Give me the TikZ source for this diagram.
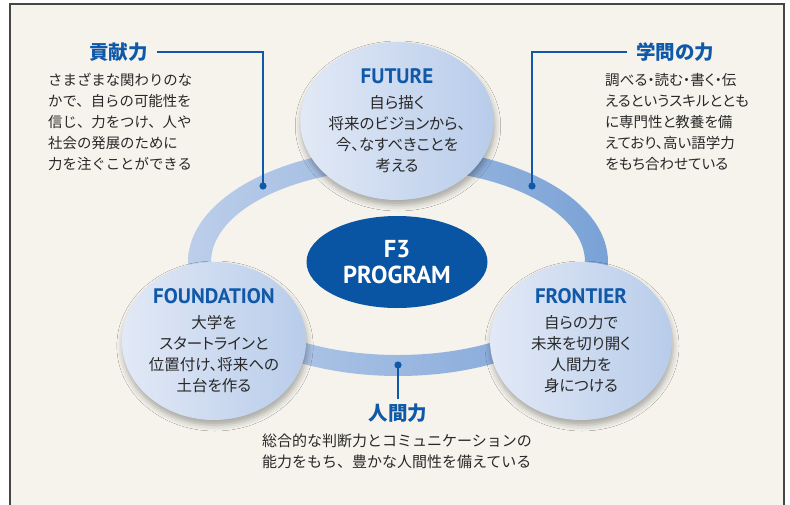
\documentclass[tikz,border=0pt]{standalone}
\usepackage{fontspec}
\setmainfont{PT Sans}
\newfontfamily\jp[RawFeature=+palt]{Noto Sans CJK JP}
\newfontfamily\jpm{Noto Sans CJK JP}
\newfontfamily\lat{PT Sans}
\usetikzlibrary{shapes.geometric,shadows.blur}
\definecolor{bg}{RGB}{245,243,236}
\definecolor{framec}{RGB}{70,70,70}
\definecolor{ringL}{RGB}{188,206,234}
\definecolor{ringR}{RGB}{122,162,214}
\definecolor{circL}{RGB}{226,233,246}
\definecolor{circR}{RGB}{184,204,234}
\definecolor{blueT}{RGB}{16,88,168}
\definecolor{f3blue}{RGB}{10,84,164}
\definecolor{txt}{RGB}{40,40,40}
\tikzset{
  circ/.style={ellipse, minimum width=182pt, minimum height=158pt, inner sep=0pt,
    left color=circL, right color=circR,
    blur shadow={shadow xshift=1pt, shadow yshift=-5pt, shadow blur radius=6pt, shadow opacity=32},
    align=center, text=txt, font=\jp\fontsize{15.5}{21}\selectfont},
  body/.style={font=\jp\fontsize{14.5}{21}\selectfont, text=txt, align=left, inner sep=0pt},
  bodym/.style={font=\jpm\fontsize{14.4}{21}\selectfont, text=txt, align=left, inner sep=0pt},
  ttl/.style={font=\jp\bfseries\fontsize{19.5}{22}\selectfont, text=blueT, inner xsep=9pt, inner ysep=5pt},
  conn/.style={draw=blueT, line width=1.5pt},
  dotc/.style={fill=blueT}
}
\newcommand{\ctitle}[1]{{\lat\bfseries\fontsize{21}{21}\selectfont\color{blueT}#1}}
\begin{document}
\begin{tikzpicture}[x=1pt,y=-1pt]
\useasboundingbox (0,0) rectangle (790,504);
\fill[white] (0,0) rectangle (790,504);
\fill[bg] (10,4) rectangle (784,520);
\draw[framec, line width=1.2pt] (10,520) -- (10,4) -- (784,4) -- (784,520);
% ring
\shade[left color=ringL, right color=ringR, even odd rule]
  (398,262) ellipse [x radius=210, y radius=114]
  (398,262) ellipse [x radius=187, y radius=93];
% connector points
\coordinate (d1) at (263,186);
\coordinate (d2) at (532,186);
\coordinate (d3) at (398,365);
% titles
\node[ttl, anchor=east] (t1) at (157,52) {貢献力};
\node[ttl, anchor=west] (t2) at (627,52) {学問の力};
\node[ttl] (t3) at (398,413) {人間力};
\draw[conn] (t1.east) -| (d1);
\draw[conn] (d2) |- (t2.west);
\draw[conn] (d3) -- (t3.north);
\fill[dotc] (d1) circle (3.6);
\fill[dotc] (d2) circle (3.6);
\fill[dotc] (d3) circle (3.6);
% body texts
\node[bodym, anchor=north west] (b1) at (48,73) {さまざまな関わりのな\\かで、自らの可能性を\\信じ、力をつけ、人や\\社会の発展のために\\力を注ぐことができる};
\node[body, anchor=north west] (b2) at (605,73) {調べる・読む・書く・伝\\えるというスキルととも\\に専門性と教養を備\\えており、高い語学力\\をもち合わせている};
\node[bodym, font=\jpm\fontsize{15}{21}\selectfont, anchor=north west] (b3) at (262,434) {総合的な判断力とコミュニケーションの\\能力をもち、豊かな人間性を備えている};
% circles
\node[circ] (fut) at (397,121) {\ctitle{FUTURE}\\[4pt]自ら描く\\将来のビジョンから、\\今、なすべきことを\\考える};
\node[circ] (fou) at (214,341) {\ctitle{FOUNDATION}\\[4pt]大学を\\スタートラインと\\位置付け、将来への\\土台を作る};
\node[circ] (fro) at (581,341) {\ctitle{FRONTIER}\\[4pt]自らの力で\\未来を切り開く\\人間力を\\身につける};
% center
\node[ellipse, fill=f3blue, minimum width=181pt, minimum height=92pt, inner sep=0pt,
  text=white, font=\lat\bfseries\fontsize{24.5}{26}\selectfont, align=center] (f3) at (397,262) {F3\\PROGRAM};
\end{tikzpicture}
\end{document}
